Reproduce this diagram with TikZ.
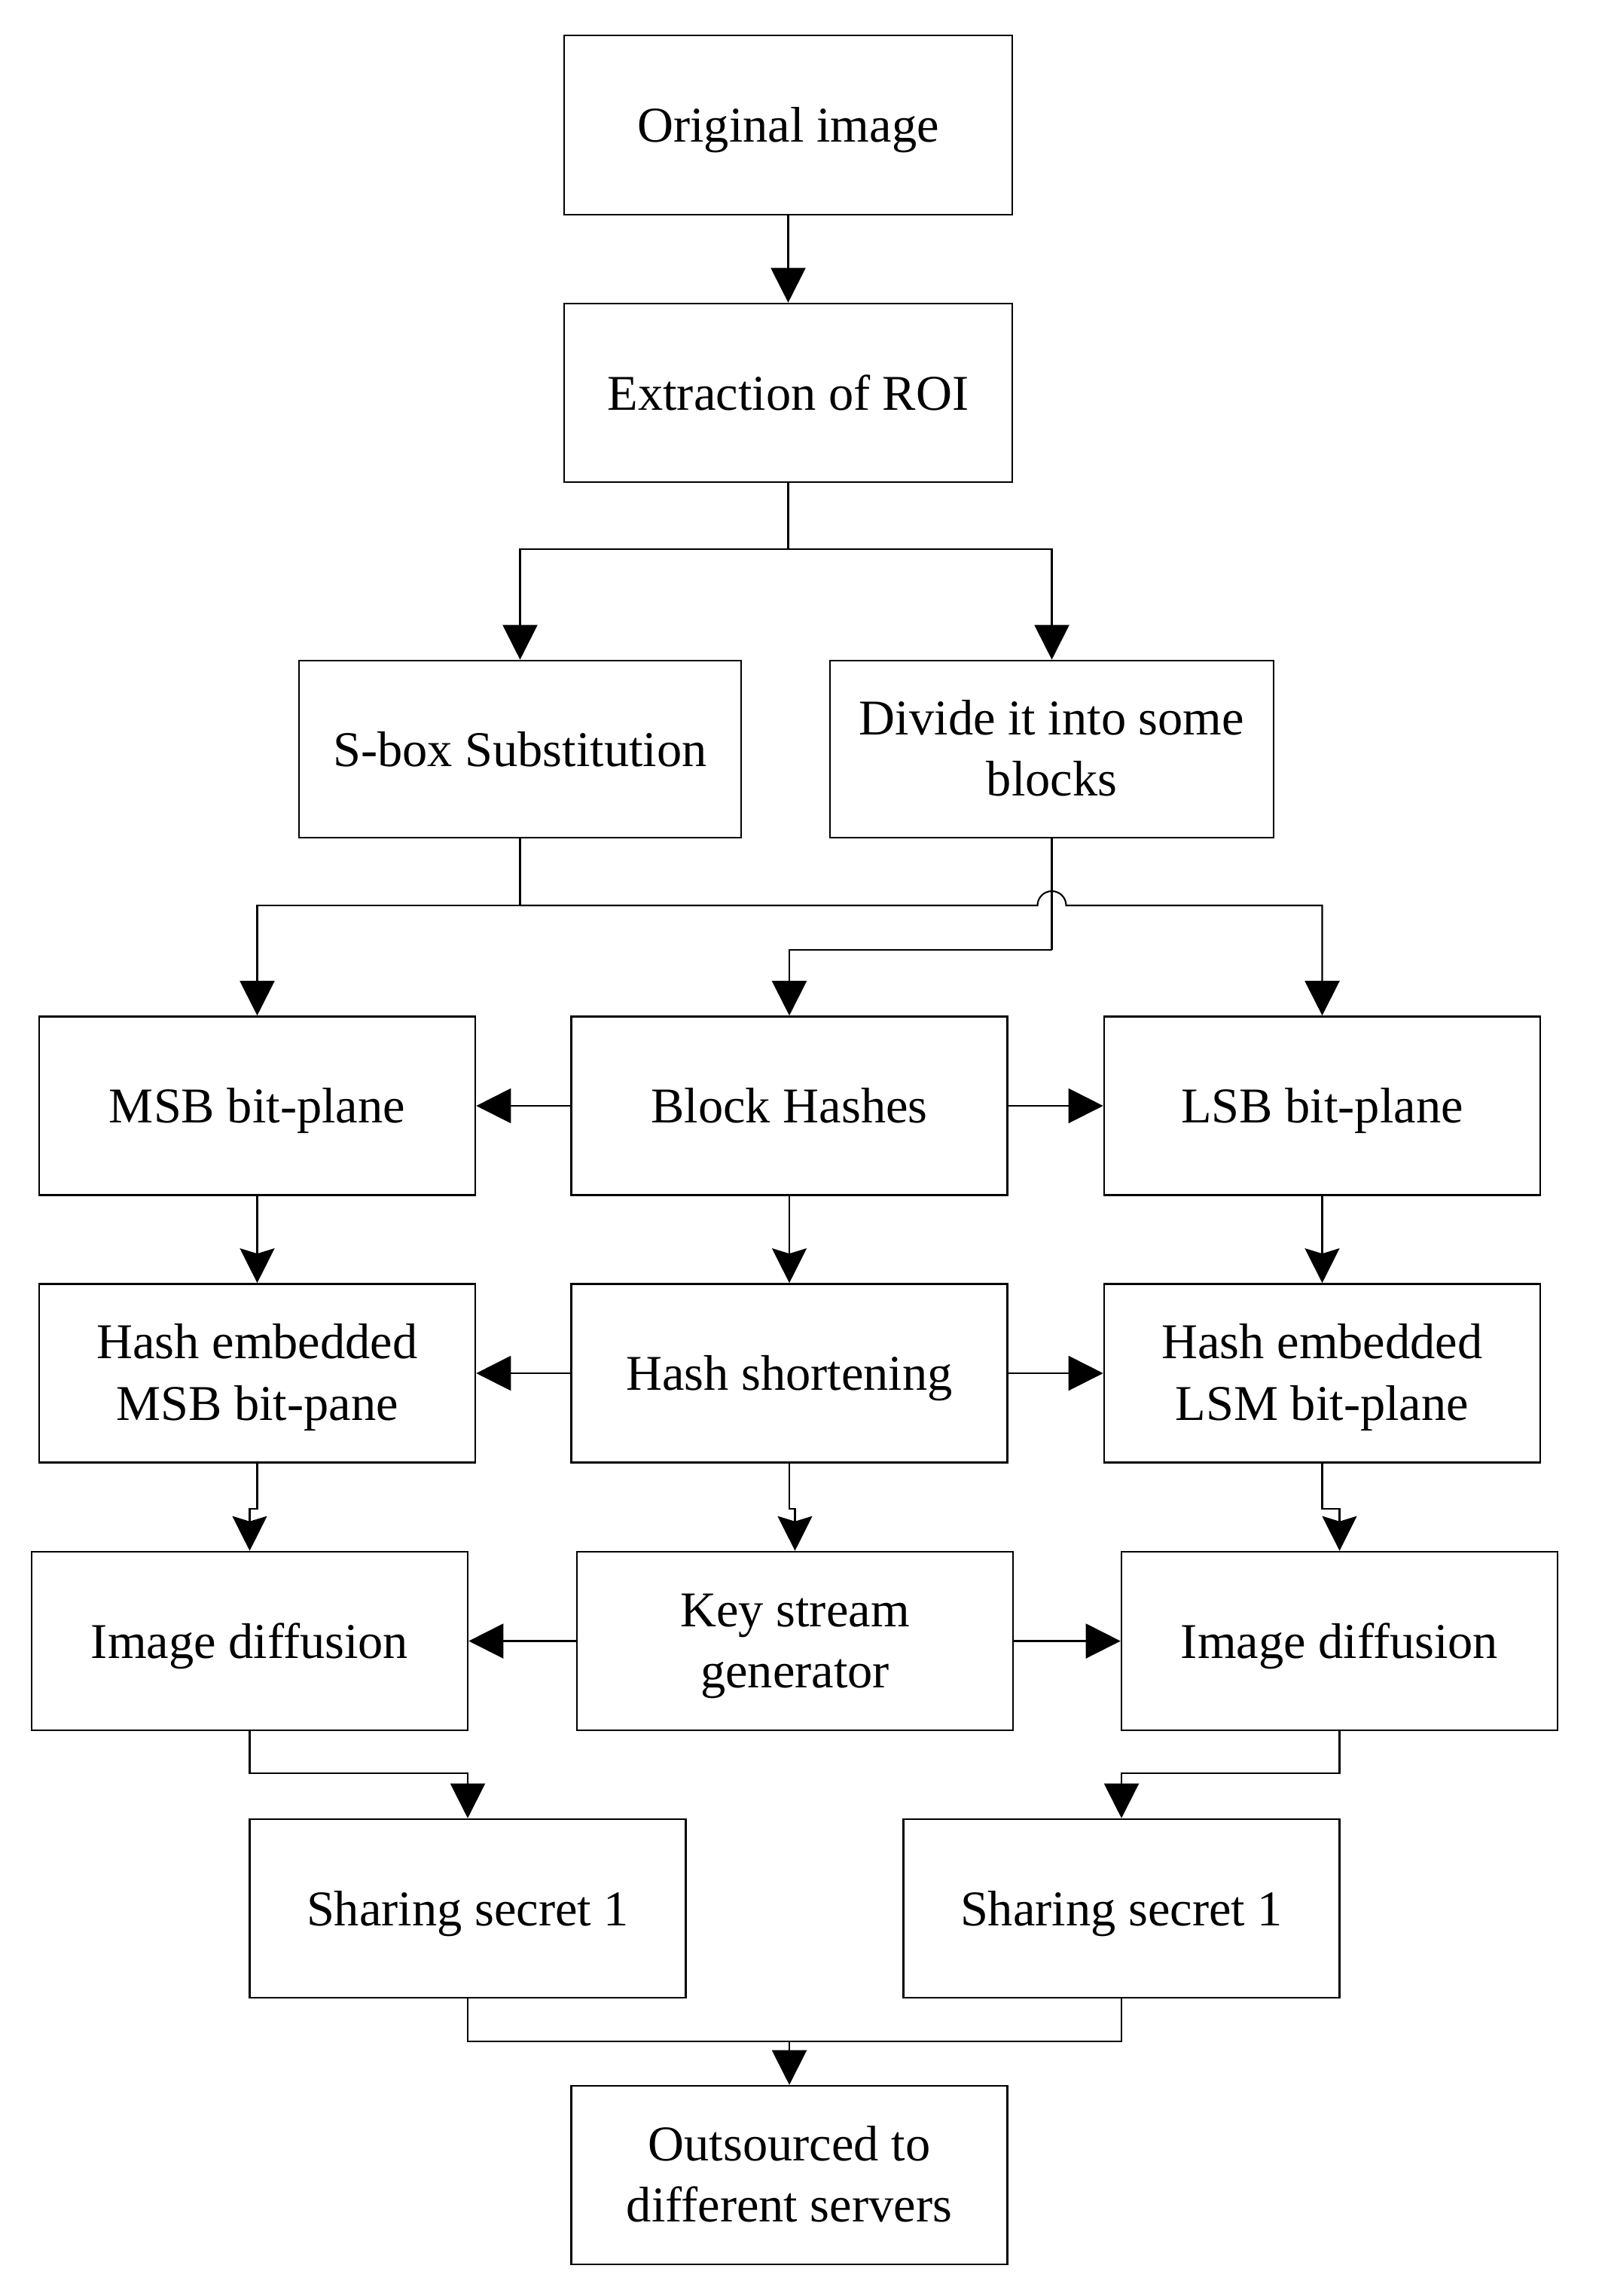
\documentclass[tikz,border=0pt]{standalone}
\usepackage{fontspec}
\setmainfont{Liberation Serif}
\usetikzlibrary{arrows.meta}
\newcommand{\tstrut}{\rule[-5pt]{0pt}{22.9pt}}
\newcommand{\mlstrut}{\rule[-5pt]{0pt}{22.3pt}}
\begin{document}
\begin{tikzpicture}[
  box/.style={draw, line width=0.75pt, inner sep=0pt, align=center,
    font=\fontsize{18.9}{23.2}\selectfont,
    execute at begin node={\tstrut}, execute at end node={\tstrut}},
  bw/.style={box, minimum width=5.79cm, minimum height=2.37cm},
  conn/.style={line width=0.6pt},
  tri/.style={conn, -{Triangle[length=0.46cm, width=0.46cm]}},
  cc/.style={conn, -{Stealth[length=0.46cm, width=0.46cm, inset=0.07cm]}}
]
\useasboundingbox (0,0) rectangle (21.31,-30.48);
% row 0 / 1
\node[box, minimum width=5.95cm, minimum height=2.38cm] (orig) at (10.465,-1.66) {Original image};
\node[box, minimum width=5.95cm, minimum height=2.37cm] (roi) at (10.465,-5.215) {Extraction of ROI};
\node[box, minimum width=5.87cm, minimum height=2.35cm] (sbox) at (6.905,-9.945) {S-box Substitution};
\node[box, minimum width=5.89cm, minimum height=2.35cm] (div) at (13.965,-9.945) {\mlstrut Divide it into some\\blocks};
% row 2
\node[bw] (msb) at (3.415,-14.68) {MSB bit-plane};
\node[bw] (bh) at (10.48,-14.68) {Block Hashes};
\node[bw] (lsb) at (17.555,-14.68) {LSB bit-plane};
% row 3
\node[bw] (hem) at (3.415,-18.23) {\mlstrut Hash embedded\\MSB bit-pane};
\node[bw] (hs) at (10.48,-18.23) {Hash shortening};
\node[bw] (hel) at (17.555,-18.23) {\mlstrut Hash embedded\\LSM bit-plane};
% row 4
\node[bw] (dl) at (3.315,-21.785) {Image diffusion};
\node[bw] (ks) at (10.555,-21.785) {\mlstrut Key stream\\generator};
\node[bw] (dr) at (17.785,-21.785) {Image diffusion};
% row 5
\node[bw] (sl) at (6.21,-25.335) {Sharing secret 1};
\node[bw] (sr) at (14.89,-25.335) {Sharing secret 1};
% row 6
\node[bw] (out) at (10.48,-28.875) {\mlstrut Outsourced to\\different servers};

% connectors
\draw[tri] (orig) -- (roi);
\coordinate (e1) at (10.465,-7.29);
\draw[conn] (roi.south) -- (e1);
\draw[tri] (e1) -| (sbox.north);
\draw[tri] (e1) -| (div.north);

\coordinate (h1) at (6.905,-12.02);
\coordinate (hc) at (13.965,-12.02);
\draw[conn] (sbox.south) -- (h1);
\draw[tri] (h1) -| (msb.north);
\draw[tri] (h1) -- ([xshift=-0.19cm]hc) arc[start angle=180, end angle=0, radius=0.19cm] -| (lsb.north);
\coordinate (d1) at (13.965,-12.61);
\draw[conn] (div.south) -- (d1);
\draw[tri] (d1) -| (bh.north);

\draw[tri] (bh.west) -- (msb.east);
\draw[tri] (bh.east) -- (lsb.west);
\draw[cc] (msb) -- (hem);
\draw[cc] (bh) -- (hs);
\draw[cc] (lsb) -- (hel);

\draw[tri] (hs.west) -- (hem.east);
\draw[tri] (hs.east) -- (hel.west);
\coordinate (j1) at (3.415,-20.03);
\coordinate (j2) at (10.48,-20.03);
\coordinate (j3) at (17.555,-20.03);
\draw[cc] (hem.south) -- (j1) -| (dl.north);
\draw[cc] (hs.south) -- (j2) -| (ks.north);
\draw[cc] (hel.south) -- (j3) -| (dr.north);

\draw[tri] (ks.west) -- (dl.east);
\draw[tri] (ks.east) -- (dr.west);
\coordinate (b1) at (3.315,-23.54);
\coordinate (b2) at (17.785,-23.54);
\draw[tri] (dl.south) -- (b1) -| (sl.north);
\draw[tri] (dr.south) -- (b2) -| (sr.north);

\coordinate (m) at (10.48,-27.10);
\draw[conn] (sl.south) |- (m) -| (sr.south);
\draw[tri] (m) -- (out.north);
\end{tikzpicture}
\end{document}
